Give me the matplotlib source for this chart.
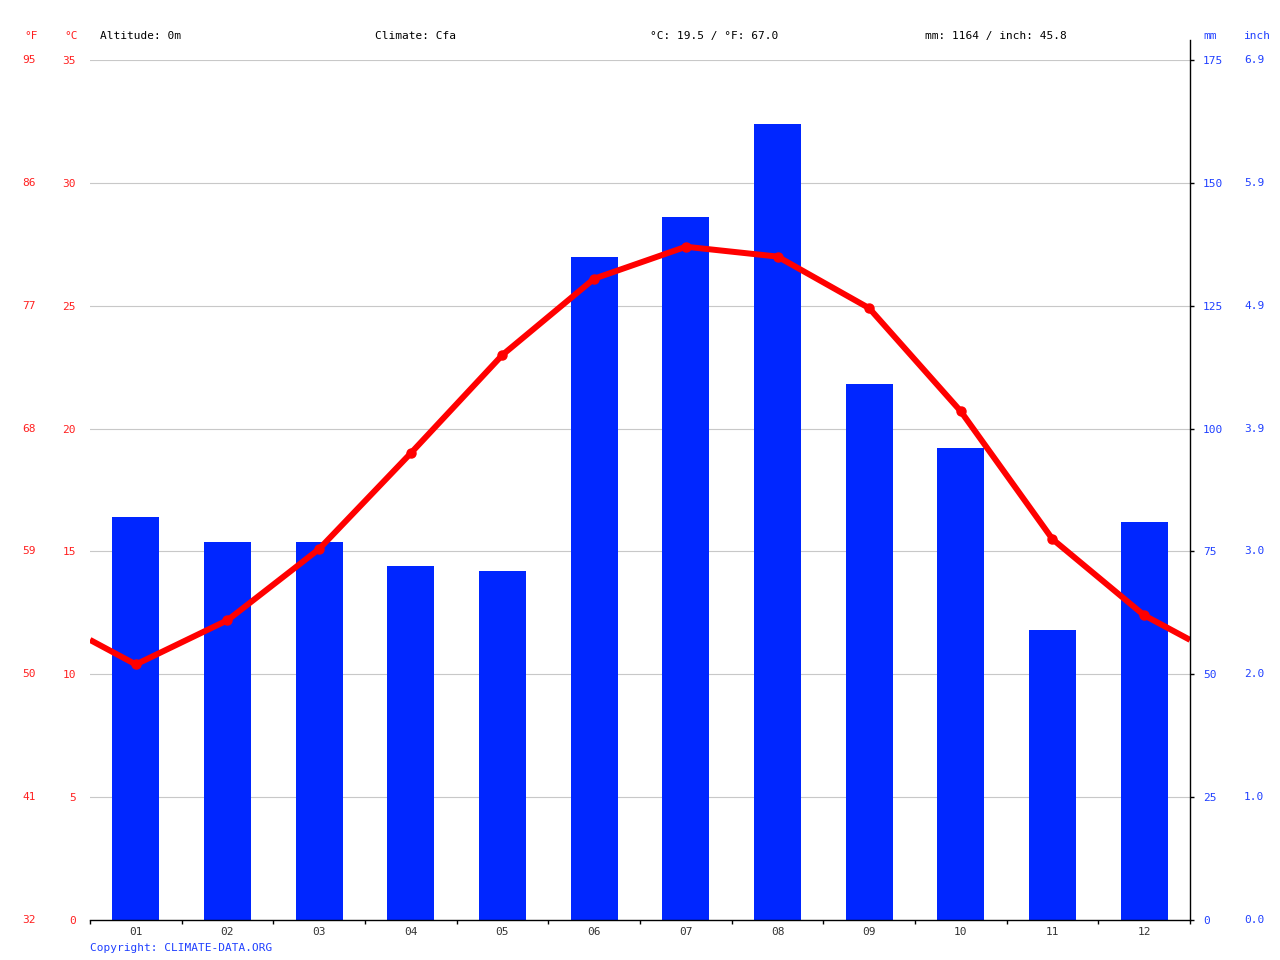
import matplotlib
matplotlib.use("Agg")
import matplotlib.pyplot as plt
import matplotlib.transforms as mtransforms

months = ["01", "02", "03", "04", "05", "06", "07", "08", "09", "10", "11", "12"]
precip_mm = [82, 77, 77, 72, 71, 135, 143, 162, 109, 96, 59, 81]
temp_c = [10.4, 12.2, 15.1, 19.0, 23.0, 26.1, 27.4, 27.0, 24.9, 20.7, 15.5, 12.4]
c_ticks = [0, 5, 10, 15, 20, 25, 30, 35]
f_labels = ["32", "41", "50", "59", "68", "77", "86", "95"]
mm_ticks = [0, 25, 50, 75, 100, 125, 150, 175]
inch_labels = ["0.0", "1.0", "2.0", "3.0", "3.9", "4.9", "5.9", "6.9"]
header = ["Altitude: 0m", "Climate: Cfa", "°C: 19.5 / °F: 67.0", "mm: 1164 / inch: 45.8"]

RED = "#ff0000"
TRED = "#ff2020"
BLUE = "#0026ff"
TBLUE = "#2040ff"
FONT = "DejaVu Sans Mono"
FS = 8

fig = plt.figure(figsize=(12.8, 9.6), dpi=100)
W, H = 1280, 960
ax = fig.add_axes([90 / W, 40 / H, 1100 / W, 860 / H])
ax2 = ax.twinx()
ax.set_zorder(ax2.get_zorder() + 1)
ax.patch.set_visible(False)

x = list(range(12))
ax2.bar(x, precip_mm, width=0.51, color=BLUE, zorder=2)
ax2.set_ylim(0, 175)
ax.set_ylim(0, 35)
ax.set_xlim(-0.5, 11.5)
ax2.set_xlim(-0.5, 11.5)

# temperature line, wrapped to the edges
edge = (temp_c[-1] + temp_c[0]) / 2
lx = [-0.5] + x + [11.5]
ly = [edge] + temp_c + [edge]
ax.plot(lx, ly, color=RED, lw=4.3, zorder=3, solid_capstyle="butt")
ax.plot(x, temp_c, "o", color=RED, ms=6.5, zorder=4)

# grid
for c in c_ticks[1:]:
    ax2.axhline(c * 5, color="#c8c8c8", lw=0.8, zorder=1)

for a in (ax, ax2):
    for s in ("top", "left", "right"):
        a.spines[s].set_visible(False)
ax2.spines["bottom"].set_visible(False)
ax.spines["bottom"].set_linewidth(1.0)

# right axis line extending above
ax.plot([1, 1], [0, 1 + 20 / 860], transform=ax.transAxes, clip_on=False,
        color="black", lw=1.0, zorder=5)

# x ticks
ax.set_xticks(x)
ax.set_xticklabels(months, fontfamily=FONT, fontsize=FS, color="#333333")
ax.tick_params(axis="x", which="major", length=0, pad=5)
ax.set_xticks([i + 0.5 for i in range(-1, 12)], minor=True)
ax.tick_params(axis="x", which="minor", length=3, width=1, direction="out", color="black")

# left tick labels
ax.set_yticks(c_ticks)
ax.set_yticklabels([str(c) for c in c_ticks], fontfamily=FONT, fontsize=FS, color=TRED)
ax.tick_params(axis="y", length=0, pad=10)
tl = mtransforms.blended_transform_factory(fig.transFigure, ax.transData)
for c, f in zip(c_ticks, f_labels):
    ax.text(36 / W, c, f, transform=tl, ha="right", va="center",
            fontfamily=FONT, fontsize=FS, color=TRED)

# right tick labels
ax2.set_yticks(mm_ticks)
ax2.set_yticklabels([str(m) for m in mm_ticks], fontfamily=FONT, fontsize=FS, color=TBLUE)
ax2.tick_params(axis="y", length=3, width=1, pad=6.4, color="black")
tr = mtransforms.blended_transform_factory(fig.transFigure, ax2.transData)
for m, s in zip(mm_ticks, inch_labels):
    ax2.text(1244 / W, m, s, transform=tr, ha="left", va="center",
             fontfamily=FONT, fontsize=FS, color=TBLUE)

# header
hy = 1 - 36 / H
fig.text(24 / W, hy, "°F", color=TRED, fontfamily=FONT, fontsize=FS, va="center")
fig.text(64 / W, hy, "°C", color=TRED, fontfamily=FONT, fontsize=FS, va="center")
for hx, t in zip([100, 375, 650, 925], header):
    fig.text(hx / W, hy, t, color="black", fontfamily=FONT, fontsize=FS, va="center")
fig.text(1203 / W, hy, "mm", color=TBLUE, fontfamily=FONT, fontsize=FS, va="center")
fig.text(1244 / W, hy, "inch", color=TBLUE, fontfamily=FONT, fontsize=FS, va="center")

fig.text(90 / W, 1 - 948 / H, "Copyright: CLIMATE-DATA.ORG", color=TBLUE,
         fontfamily=FONT, fontsize=FS, va="center")

fig.savefig("out.png", dpi=100)
